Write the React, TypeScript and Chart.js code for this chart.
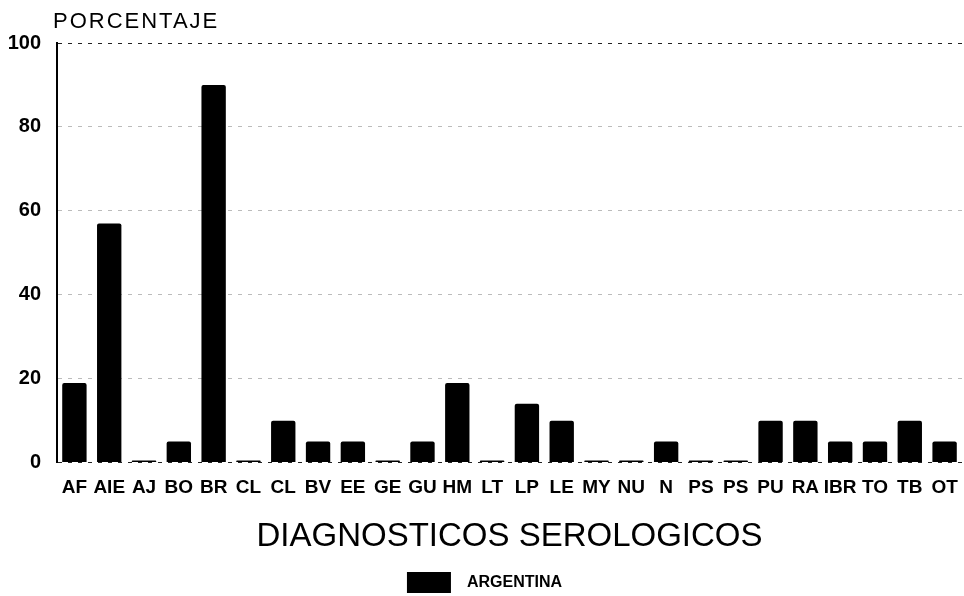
import React, { useEffect, useRef } from "react";
import { Chart, registerables } from "chart.js";

Chart.register(...registerables);

const categories = [
  "AF", "AIE", "AJ", "BO", "BR", "CL", "CL", "BV", "EE", "GE", "GU", "HM", "LT",
  "LP", "LE", "MY", "NU", "N", "PS", "PS", "PU", "RA", "IBR", "TO", "TB", "OT",
];
const argentinaValues = [
  19, 57, 0, 5, 90, 0, 10, 5, 5, 0, 5, 19, 0,
  14, 10, 0, 0, 5, 0, 0, 10, 10, 5, 5, 10, 5,
];
const seriesLabel = "ARGENTINA";
const yAxisLabel = "PORCENTAJE";
const xAxisLabel = "DIAGNOSTICOS SEROLOGICOS";
const yTicks = [0, 20, 40, 60, 80, 100];

const FONT = "'Liberation Sans', Arial, sans-serif";

const yLabelPlugin = {
  id: "yLabelTop",
  afterDraw(chart: any) {
    const { ctx, chartArea } = chart;
    ctx.save();
    ctx.font = `22px ${FONT}`;
    (ctx as any).letterSpacing = "2px";
    ctx.fillStyle = "#000";
    ctx.textBaseline = "alphabetic";
    ctx.textAlign = "left";
    ctx.fillText(yAxisLabel, chartArea.left - 4, 28);
    ctx.restore();
  },
};

export default function App() {
  const ref = useRef<HTMLCanvasElement | null>(null);
  useEffect(() => {
    if (!ref.current) return;
    const chart = new Chart(ref.current, {
      type: "bar",
      data: {
        labels: categories,
        datasets: [
          {
            label: seriesLabel,
            data: argentinaValues,
            backgroundColor: "#000",
            borderColor: "#000",
            borderWidth: 0,
            borderRadius: 2,
            minBarLength: 2,
            categoryPercentage: 1,
            barPercentage: 0.7,
          },
        ],
      },
      options: {
        responsive: false,
        animation: false,
        layout: { padding: { top: 43, left: 7, right: 2, bottom: -7 } },
        plugins: {
          tooltip: { enabled: false },
          legend: {
            position: "bottom",
            labels: {
              boxWidth: 44,
              boxHeight: 21,
              color: "#000",
              font: { family: FONT, size: 16, weight: "bold" },
              padding: 0,
              generateLabels: (ch: any) =>
                Chart.defaults.plugins.legend.labels
                  .generateLabels(ch)
                  .map((l: any) => ({ ...l, text: "\u2002" + l.text })),
            },
          },
        },
        scales: {
          x: {
            grid: { display: false },
            border: { display: false },
            ticks: {
              autoSkip: false,
              maxRotation: 0,
              minRotation: 0,
              color: "#000",
              padding: 6,
              font: { family: FONT, size: 19, weight: "bold" },
            },
            title: {
              display: true,
              text: xAxisLabel,
              color: "#000",
              font: { family: FONT, size: 33, weight: "normal" },
              padding: { top: 12, bottom: 15 },
            },
          },
          y: {
            min: 0,
            max: 100,
            afterFit: (scale: any) => {
              scale.width = 50;
            },
            afterBuildTicks: (scale: any) => {
              scale.ticks = yTicks.map((v) => ({ value: v }));
            },
            grid: {
              drawTicks: false,
              color: (c: any) =>
                c.tick && c.tick.value === 100
                  ? "#222"
                  : c.tick && c.tick.value === 0
                  ? "#222"
                  : "#bbb",
              lineWidth: 1,
            },
            border: { display: true, color: "#000", width: 2, dash: [4, 6] },
            ticks: {
              color: "#000",
              padding: 16,
              font: { family: FONT, size: 20, weight: "bold" },
            },
          },
        },
      },
      plugins: [yLabelPlugin],
    });
    return () => chart.destroy();
  }, []);
  return (
    <div style={{ position: "fixed", left: 0, top: 0, width: 964, height: 596, background: "#fff" }}>
      <canvas ref={ref} width={964} height={596} style={{ display: "block" }} />
    </div>
  );
}
